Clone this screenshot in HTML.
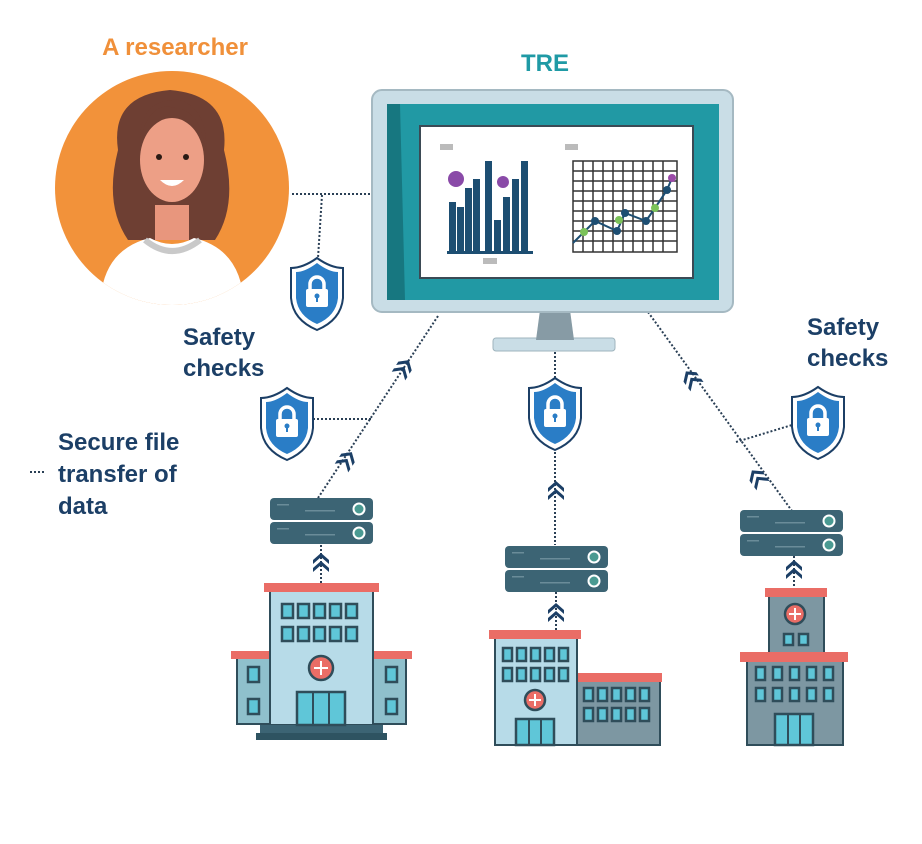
<!DOCTYPE html>
<html><head><meta charset="utf-8"><style>
html,body{margin:0;padding:0;background:#fff;}
svg{display:block;}
text{font-family:"Liberation Sans",sans-serif;font-weight:bold;}
</style></head><body>
<svg width="922" height="844" viewBox="0 0 922 844" xmlns="http://www.w3.org/2000/svg">
<defs>
<g id="shield">
 <path d="M26 0 Q40 10 52 10 L52 40 Q50 62 26 72 Q2 62 0 40 L0 10 Q12 10 26 0Z" fill="#fff" stroke="#1c3f66" stroke-width="2"/>
 <path d="M26 5 Q38 14 47 14 L47 40 Q45 58 26 66 Q7 58 5 40 L5 14 Q14 14 26 5Z" fill="#2a7dc6"/>
 <path d="M19 32 V26 a7 7 0 0 1 14 0 V32" fill="none" stroke="#fff" stroke-width="3.5"/>
 <rect x="15" y="31" width="22" height="18" rx="2" fill="#fff"/>
 <circle cx="26" cy="38" r="2.5" fill="#2a7dc6"/><rect x="25" y="38" width="2" height="6" fill="#2a7dc6"/>
</g>
<g id="server">
 <rect x="0" y="0" width="103" height="22" rx="4" fill="#3c6474"/>
 <rect x="0" y="24" width="103" height="22" rx="4" fill="#3c6474"/>
 <circle cx="89" cy="11" r="5.5" fill="#4a9a92" stroke="#fff" stroke-width="2"/>
 <circle cx="89" cy="35" r="5.5" fill="#4a9a92" stroke="#fff" stroke-width="2"/>
 <g fill="#6a8c99"><rect x="7" y="6" width="12" height="1.5"/><rect x="7" y="30" width="12" height="1.5"/><rect x="35" y="12" width="30" height="1.5"/><rect x="35" y="36" width="30" height="1.5"/></g>
</g>
<g id="chev">
 <path d="M-8 0 L0 -7 L8 0 L8 4 L0 -3 L-8 4Z M-8 8 L0 1 L8 8 L8 12 L0 5 L-8 12Z" fill="#1c3f66"/>
</g>
</defs>

<!-- titles -->
<text x="175" y="55" font-size="24" fill="#f0903a" text-anchor="middle">A researcher</text>
<text x="545" y="71" font-size="24" fill="#1f9aa5" text-anchor="middle">TRE</text>

<!-- researcher -->
<clipPath id="cc"><circle cx="172" cy="188" r="117"/></clipPath>
<circle cx="172" cy="188" r="117" fill="#f2923a"/>
<g clip-path="url(#cc)">
 <path d="M118 150 Q110 95 170 90 Q230 95 224 150 Q238 205 215 240 L128 240 Q104 205 118 150Z" fill="#6e3f33"/>
 <rect x="155" y="205" width="34" height="35" fill="#e8967d"/>
 <ellipse cx="172" cy="160" rx="32" ry="42" fill="#ed9f86"/>
 <path d="M140 140 Q150 100 175 108 Q200 110 206 150 Q208 110 180 100 Q140 98 140 140Z" fill="#6e3f33"/>
 <circle cx="159" cy="157" r="3" fill="#2a1a14"/><circle cx="186" cy="157" r="3" fill="#2a1a14"/>
 <path d="M160 180 Q172 192 184 180Z" fill="#fff"/>
 <path d="M100 310 Q100 250 150 238 Q172 250 194 238 Q244 250 244 310Z" fill="#fff"/>
 <path d="M145 240 Q172 262 200 240" fill="none" stroke="#c9c9c9" stroke-width="6"/>
</g>

<!-- dotted connectors -->
<g stroke="#2a3f55" stroke-width="2" stroke-dasharray="2 2" fill="none">
 <line x1="292" y1="194" x2="372" y2="194"/>
 <line x1="322" y1="195" x2="318" y2="258"/>
 <line x1="438" y1="316" x2="318" y2="498"/>
 <line x1="313" y1="419" x2="372" y2="419"/>
 <line x1="555" y1="352" x2="555" y2="545"/>
 <line x1="648" y1="312" x2="792" y2="511"/>
 <line x1="736" y1="442" x2="792" y2="425"/>
 <line x1="321" y1="545" x2="321" y2="583"/>
 <line x1="556" y1="592" x2="556" y2="630"/>
 <line x1="794" y1="556" x2="794" y2="588"/>
 <line x1="30" y1="472" x2="45" y2="472"/>
</g>

<!-- monitor -->
<rect x="493" y="338" width="122" height="13" rx="3" fill="#c9dde6" stroke="#9fb4bd"/>
<path d="M540 310 L570 310 L574 340 L536 340Z" fill="#879ba5"/>
<rect x="372" y="90" width="361" height="222" rx="10" fill="#c9dde6" stroke="#a5b9c2" stroke-width="2"/>
<rect x="387" y="104" width="332" height="196" fill="#2199a4"/>
<path d="M387 104 L400 104 L405 300 L387 300Z" fill="#177780"/>
<rect x="420" y="126" width="273" height="152" fill="#fff" stroke="#3b4a55" stroke-width="2"/>
<g fill="#bbbbbb"><rect x="440" y="144" width="13" height="6"/><rect x="565" y="144" width="13" height="6"/><rect x="483" y="258" width="14" height="6"/></g>
<g fill="#1d4e72">
 <rect x="449" y="202" width="7" height="50"/><rect x="457" y="207" width="7" height="45"/><rect x="465" y="188" width="7" height="64"/><rect x="473" y="179" width="7" height="73"/><rect x="485" y="161" width="7" height="91"/><rect x="494" y="220" width="7" height="32"/><rect x="503" y="197" width="7" height="55"/><rect x="512" y="179" width="7" height="73"/><rect x="521" y="161" width="7" height="91"/>
 <rect x="447" y="251" width="86" height="3"/>
</g>
<circle cx="456" cy="179" r="8" fill="#8a4aa8"/><circle cx="503" cy="182" r="6" fill="#8a4aa8"/>
<g stroke="#333" stroke-width="1.5" fill="none">
 <path d="M573 161 H677 V252 H573Z M583 161 V252 M593 161 V252 M603 161 V252 M613 161 V252 M623 161 V252 M633 161 V252 M643 161 V252 M653 161 V252 M663 161 V252 M573 171 H677 M573 181 H677 M573 191 H677 M573 201 H677 M573 211 H677 M573 221 H677 M573 231 H677 M573 241 H677"/>
</g>
<polyline points="573,243 584,232 595,221 617,231 625,213 646,221 655,208 667,190 672,178" fill="none" stroke="#1d4e72" stroke-width="2"/>
<g fill="#1d4e72"><circle cx="595" cy="221" r="4"/><circle cx="617" cy="231" r="4"/><circle cx="625" cy="213" r="4"/><circle cx="646" cy="221" r="4"/><circle cx="667" cy="190" r="4"/></g>
<g fill="#7cc35a"><circle cx="584" cy="232" r="4"/><circle cx="619" cy="220" r="4"/><circle cx="655" cy="208" r="4"/></g>
<circle cx="672" cy="178" r="4" fill="#9a4aa8"/>

<!-- shields -->
<use href="#shield" x="291" y="258"/>
<use href="#shield" x="261" y="388"/>
<use href="#shield" x="529" y="378"/>
<use href="#shield" x="792" y="387"/>

<!-- labels -->
<g fill="#1c3f66" font-size="24">
 <text x="183" y="345">Safety</text><text x="183" y="376">checks</text>
 <text x="807" y="335">Safety</text><text x="807" y="366">checks</text>
 <text x="58" y="450">Secure file</text><text x="58" y="482">transfer of</text><text x="58" y="514">data</text>
</g>

<!-- chevrons -->
<use href="#chev" transform="translate(405,366) rotate(33)"/>
<use href="#chev" transform="translate(348,458) rotate(33)"/>
<use href="#chev" transform="translate(556,488)"/>
<use href="#chev" transform="translate(556,610)"/>
<use href="#chev" transform="translate(321,560)"/>
<use href="#chev" transform="translate(794,567)"/>
<use href="#chev" transform="translate(690,377) rotate(-36)"/>
<use href="#chev" transform="translate(756,476) rotate(-36)"/>

<!-- servers -->
<use href="#server" x="270" y="498"/>
<use href="#server" x="505" y="546"/>
<use href="#server" x="740" y="510"/>

<!-- left hospital -->
<g stroke="#2f4d5a" stroke-width="2">
 <rect x="237" y="657" width="33" height="67" fill="#8fc0cc"/>
 <rect x="373" y="657" width="33" height="67" fill="#8fc0cc"/>
 <rect x="231" y="651" width="41" height="8" fill="#ea6d66" stroke="none"/>
 <rect x="371" y="651" width="41" height="8" fill="#ea6d66" stroke="none"/>
 <rect x="270" y="590" width="103" height="135" fill="#b7dbe8"/>
 <rect x="264" y="583" width="115" height="9" fill="#ea6d66" stroke="none"/>
 <rect x="260" y="725" width="123" height="8" fill="#3c6474" stroke="none"/>
 <rect x="256" y="733" width="131" height="7" fill="#2e5361" stroke="none"/>
</g>
<g fill="#5fc6d8" stroke="#2f4d5a" stroke-width="2.5">
 <rect x="282" y="604" width="11" height="14"/><rect x="298" y="604" width="11" height="14"/><rect x="314" y="604" width="11" height="14"/><rect x="330" y="604" width="11" height="14"/><rect x="346" y="604" width="11" height="14"/>
 <rect x="282" y="627" width="11" height="14"/><rect x="298" y="627" width="11" height="14"/><rect x="314" y="627" width="11" height="14"/><rect x="330" y="627" width="11" height="14"/><rect x="346" y="627" width="11" height="14"/>
 <rect x="248" y="667" width="11" height="15"/><rect x="248" y="699" width="11" height="15"/><rect x="386" y="667" width="11" height="15"/><rect x="386" y="699" width="11" height="15"/>
 <rect x="297" y="692" width="48" height="33"/>
</g>
<line x1="313" y1="692" x2="313" y2="725" stroke="#2f4d5a" stroke-width="2"/><line x1="329" y1="692" x2="329" y2="725" stroke="#2f4d5a" stroke-width="2"/>
<circle cx="321" cy="668" r="12" fill="#ea6d66" stroke="#2f4d5a" stroke-width="2.5"/>
<path d="M321 661 V675 M314 668 H328" stroke="#fff" stroke-width="2"/>

<!-- middle hospital -->
<g stroke="#2f4d5a" stroke-width="2">
 <rect x="577" y="680" width="83" height="65" fill="#7d97a2"/>
 <rect x="575" y="673" width="87" height="9" fill="#ea6d66" stroke="none"/>
 <rect x="495" y="637" width="82" height="108" fill="#b7dbe8"/>
 <rect x="489" y="630" width="92" height="9" fill="#ea6d66" stroke="none"/>
</g>
<g fill="#5fc6d8" stroke="#2f4d5a" stroke-width="2.5">
 <rect x="503" y="648" width="9" height="13"/><rect x="517" y="648" width="9" height="13"/><rect x="531" y="648" width="9" height="13"/><rect x="545" y="648" width="9" height="13"/><rect x="559" y="648" width="9" height="13"/>
 <rect x="503" y="668" width="9" height="13"/><rect x="517" y="668" width="9" height="13"/><rect x="531" y="668" width="9" height="13"/><rect x="545" y="668" width="9" height="13"/><rect x="559" y="668" width="9" height="13"/>
 <rect x="584" y="688" width="9" height="13"/><rect x="598" y="688" width="9" height="13"/><rect x="612" y="688" width="9" height="13"/><rect x="626" y="688" width="9" height="13"/><rect x="640" y="688" width="9" height="13"/>
 <rect x="584" y="708" width="9" height="13"/><rect x="598" y="708" width="9" height="13"/><rect x="612" y="708" width="9" height="13"/><rect x="626" y="708" width="9" height="13"/><rect x="640" y="708" width="9" height="13"/>
 <rect x="516" y="719" width="38" height="26"/>
</g>
<line x1="529" y1="719" x2="529" y2="745" stroke="#2f4d5a" stroke-width="2"/><line x1="541" y1="719" x2="541" y2="745" stroke="#2f4d5a" stroke-width="2"/>
<circle cx="535" cy="700" r="10" fill="#ea6d66" stroke="#2f4d5a" stroke-width="2.5"/>
<path d="M535 694 V706 M529 700 H541" stroke="#fff" stroke-width="2"/>

<!-- right hospital -->
<g stroke="#2f4d5a" stroke-width="2">
 <rect x="769" y="595" width="55" height="60" fill="#7d97a2"/>
 <rect x="765" y="588" width="62" height="9" fill="#ea6d66" stroke="none"/>
 <rect x="747" y="660" width="96" height="85" fill="#7d97a2"/>
 <rect x="740" y="652" width="108" height="10" fill="#ea6d66" stroke="none"/>
</g>
<g fill="#5fc6d8" stroke="#2f4d5a" stroke-width="2.5">
 <rect x="784" y="634" width="9" height="11"/><rect x="799" y="634" width="9" height="11"/>
 <rect x="756" y="667" width="9" height="13"/><rect x="773" y="667" width="9" height="13"/><rect x="790" y="667" width="9" height="13"/><rect x="807" y="667" width="9" height="13"/><rect x="824" y="667" width="9" height="13"/>
 <rect x="756" y="688" width="9" height="13"/><rect x="773" y="688" width="9" height="13"/><rect x="790" y="688" width="9" height="13"/><rect x="807" y="688" width="9" height="13"/><rect x="824" y="688" width="9" height="13"/>
 <rect x="775" y="714" width="38" height="31"/>
</g>
<line x1="788" y1="714" x2="788" y2="745" stroke="#2f4d5a" stroke-width="2"/><line x1="800" y1="714" x2="800" y2="745" stroke="#2f4d5a" stroke-width="2"/>
<circle cx="795" cy="614" r="10" fill="#ea6d66" stroke="#2f4d5a" stroke-width="2.5"/>
<path d="M795 608 V620 M789 614 H801" stroke="#fff" stroke-width="2"/>
</svg>
</body></html>
